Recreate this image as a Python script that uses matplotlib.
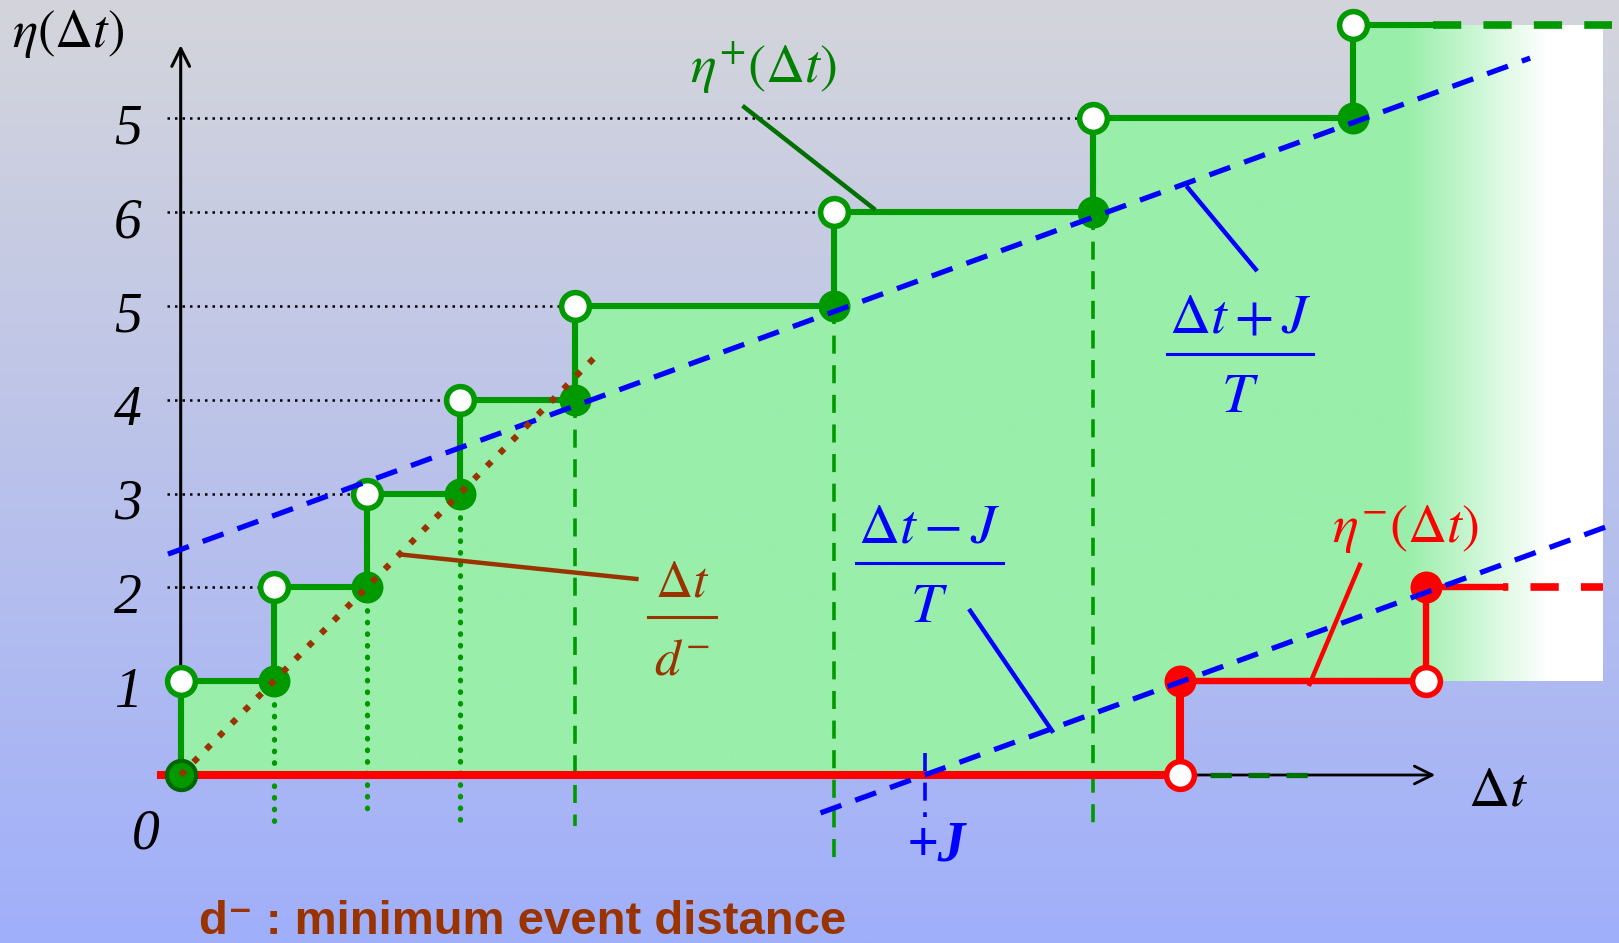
import numpy as np
import matplotlib
matplotlib.use("Agg")
import matplotlib.pyplot as plt
from matplotlib.colors import to_rgb

plt.rcParams["mathtext.fontset"] = "stix"

# upper arrival curve: jump instants (units of d-) and levels before / after each jump
eta_plus_x = [0, 1, 2, 3, 4.24, 7.03, 9.81, 12.61]
eta_plus_lo = [0, 1, 2, 3, 4, 5, 6, 7]
eta_plus_hi = [1, 2, 3, 4, 5, 6, 7, 8]
# lower arrival curve
eta_minus_x = [10.75, 13.39]
eta_minus_lo = [0, 1]
eta_minus_hi = [1, 2]

level_values = [1, 2, 3, 4, 5, 6, 7]
level_labels = ["1", "2", "3", "4", "5", "6", "5"]

T = 2.77          # period
J = 8.0           # jitter
J_upper = 6.66    # offset of the upper bound line
d_minus = 1.0     # minimum event distance

dotted_drop = [-0.54, -0.45, -0.54]      # drops under the first three jumps
dashed_drop = [-0.54, -0.93, -0.54]      # drops under the next three
x_end = 15.29

GREEN = "#009900"
DKGREEN = "#007000"
RED = "#ff0000"
BLUE = "#0000ff"
BROWN = "#993300"

fig = plt.figure(figsize=(16.19, 9.43), dpi=100)
ax = fig.add_axes([0, 0, 1, 1])
xlim = (-1.943, 15.466)
ylim = (-1.791, 8.262)

# background: grey at the top fading to lavender blue
n = 300
top = np.array([212, 213, 219]) / 255
bot = np.array([160, 175, 250]) / 255
s = np.linspace(0, 1, n)[:, None]
bg = (top * (1 - s) + bot * s)[:, None, :]
ax.imshow(bg, extent=(xlim[0], xlim[1], ylim[0], ylim[1]), aspect="auto",
          zorder=0, interpolation="bilinear")

# green area between the two curves, fading out to white on the right
xs_f = np.array(sorted(set(eta_plus_x + [eta_minus_x[0], x_end])))
top_f = np.array([eta_plus_hi[np.searchsorted(eta_plus_x, v, side="right") - 1] for v in xs_f])
bot_f = np.where(xs_f >= eta_minus_x[0], eta_minus_hi[0], 0)
poly = ax.fill_between(xs_f, bot_f, top_f, step="post", color="none")
gx = np.linspace(0, x_end, 500)
t = np.clip((gx - 13.2) / (14.7 - 13.2), 0, 1)[:, None]
green = np.array(to_rgb("#99eeaa"))
grad = (green * (1 - t) + t)[None, :, :]
im = ax.imshow(grad, extent=(0, x_end, -0.2, 8.2), aspect="auto", zorder=1,
               interpolation="bilinear")
im.set_clip_path(poly.get_paths()[0], transform=ax.transData)
poly.remove()

# dotted guides from the y axis to the open circles
for k in range(1, len(eta_plus_x) - 1):
    ax.plot([-0.15, eta_plus_x[k]], [eta_plus_hi[k], eta_plus_hi[k]], color="black",
            lw=1.8, linestyle=(0, (1, 2.0)), zorder=2)

# drops under the jumps
for x, lv, yb in zip(eta_plus_x[1:4], eta_plus_lo[1:4], dotted_drop):
    ax.plot([x, x], [lv, yb], color=GREEN, lw=3.8, linestyle=(0, (0.1, 2.1)),
            dash_capstyle="round", zorder=2)
for x, lv, yb in zip(eta_plus_x[4:7], eta_plus_lo[4:7], dashed_drop):
    ax.plot([x, x], [lv, yb], color=GREEN, lw=2.6, linestyle=(0, (5, 3.2)), zorder=2)

# axes
ax.annotate("", xy=(13.52, 0), xytext=(0, 0),
            arrowprops=dict(arrowstyle="->", lw=2, color="black", mutation_scale=32), zorder=3)
ax.annotate("", xy=(0, 7.81), xytext=(0, 0),
            arrowprops=dict(arrowstyle="->", lw=2.2, color="black", mutation_scale=32), zorder=3)

# upper staircase
px, py = [], []
for x, lo, hi in zip(eta_plus_x, eta_plus_lo, eta_plus_hi):
    px += [x, x]
    py += [lo, hi]
px.append(13.47)
py.append(eta_plus_hi[-1])
ax.plot(px, py, color=GREEN, lw=4.4, zorder=4, solid_joinstyle="miter")
ax.plot([13.47, 15.39], [eta_plus_hi[-1]] * 2, color=GREEN, lw=5.5, linestyle=(0, (3.7, 2.9)), zorder=4)
ax.plot([eta_minus_x[0], 12.27], [0, 0], color=DKGREEN, lw=3.8, linestyle=(1.5, (4, 3.2)), zorder=4)

# lower staircase
rx, ry = [-0.215], [0]
for x, lo, hi in zip(eta_minus_x, eta_minus_lo, eta_minus_hi):
    rx += [x, x]
    ry += [lo, hi]
rx.append(14.22)
ry.append(eta_minus_hi[-1])
ax.plot(rx[:3], ry[:3], color=RED, lw=5.8, zorder=4)
ax.plot(rx[2:], ry[2:], color=RED, lw=4.6, zorder=4)
ax.plot([14.22, 15.29], [eta_minus_hi[-1]] * 2, color=RED, lw=5.5,
        linestyle=(3, (3.7, 2.9)), zorder=4)

# jump markers
ax.plot(eta_plus_x[1:], eta_plus_lo[1:], "o", color=GREEN, ms=23, mew=0, zorder=5)
ax.plot(eta_plus_x[:1], eta_plus_lo[:1], "o", color=GREEN, mec="#006600", ms=21, mew=3, zorder=5)
ax.plot(eta_plus_x, eta_plus_hi, "o", mfc="white", mec=GREEN, ms=20, mew=4, zorder=5)
ax.plot(eta_minus_x, eta_minus_hi, "o", color=RED, ms=23, mew=0, zorder=5)
ax.plot(eta_minus_x, eta_minus_lo, "o", mfc="white", mec=RED, ms=20, mew=4, zorder=5)

# bound lines
xu = np.array([-0.137, 14.51])
ax.plot(xu, (xu + J_upper) / T, color=BLUE, lw=3.8, linestyle=(0, (4.2, 2.8)), zorder=6)
xl = np.array([6.88, 15.39])
ax.plot(xl, (xl - J) / T, color=BLUE, lw=3.8, linestyle=(0, (4.2, 2.8)), zorder=6)
ax.plot([J, J], [0.235, -0.45], color=BLUE, lw=2.6, linestyle=(0, (5, 3.2)), zorder=6)
xd = np.array([0, 4.45])
ax.plot(xd, xd / d_minus, color=BROWN, lw=4.5, linestyle=(0, (1, 1.9)), zorder=7)

# level labels
serif = "Liberation Serif"
for v, lab in zip(level_values, level_labels):
    ax.text(-0.57, v - 0.27, lab, ha="center", va="baseline", fontsize=40,
            family=serif, style="italic", zorder=8)
ax.text(-0.38, -0.78, "0", ha="center", va="baseline", fontsize=40,
        family=serif, style="italic", zorder=8)

ax.text(-1.81, 7.76, r"$\eta(\Delta t)$", ha="left", va="baseline", fontsize=38, zorder=8)
ax.text(13.84, -0.32, r"$\Delta t$", ha="left", va="baseline", fontsize=41, zorder=8)

# curve names with leader lines
ax.text(5.48, 7.38, r"$\eta^{+}(\Delta t)$", ha="left", va="baseline", fontsize=39,
        color="#008000", zorder=8)
ax.plot([6.06, 7.45], [7.12, 6.04], color=DKGREEN, lw=3.2, zorder=8)
ax.text(12.38, 2.48, r"$\eta^{-}(\Delta t)$", ha="left", va="baseline", fontsize=39,
        color=RED, zorder=8)
ax.plot([12.68, 12.14], [2.24, 0.97], color=RED, lw=3.2, zorder=8)


def fraction(x, ybar, num, den, width, num_base, den_base, color, size):
    ax.text(x, num_base, num, ha="center", va="baseline", fontsize=size, color=color, zorder=8)
    ax.plot([x - width / 2, x + width / 2], [ybar, ybar], color=color, lw=2.2, zorder=8)
    ax.text(x, den_base, den, ha="center", va="baseline", fontsize=size, color=color, zorder=8)


fraction(11.39, 4.49, r"$\Delta t + J$", r"$T$", 1.57, 4.72, 3.87, BLUE, 41)
ax.plot([10.83, 11.56], [6.26, 5.39], color=BLUE, lw=3.2, zorder=8)
fraction(8.05, 2.26, r"$\Delta t - J$", r"$T$", 1.58, 2.48, 1.63, BLUE, 41)
ax.plot([8.49, 9.37], [1.75, 0.47], color=BLUE, lw=3.2, zorder=8)
fraction(5.39, 1.68, r"$\Delta t$", r"$d^{-}$", 0.74, 1.90, 1.07, BROWN, 37)
ax.plot([2.37, 4.90], [2.35, 2.09], color=BROWN, lw=3.2, zorder=8)

ax.text(8.12, -0.91, "+J", ha="center", va="baseline", fontsize=40, family=serif,
        style="italic", weight="bold", color=BLUE, zorder=8)

ax.text(0.197, -1.70, "d\u207b : minimum event distance", ha="left", va="baseline",
        fontsize=34, family=["Liberation Sans", "DejaVu Sans"], weight="bold",
        color=BROWN, zorder=8)

ax.set_xlim(*xlim)
ax.set_ylim(*ylim)
ax.axis("off")
fig.savefig("out.png", dpi=100)
